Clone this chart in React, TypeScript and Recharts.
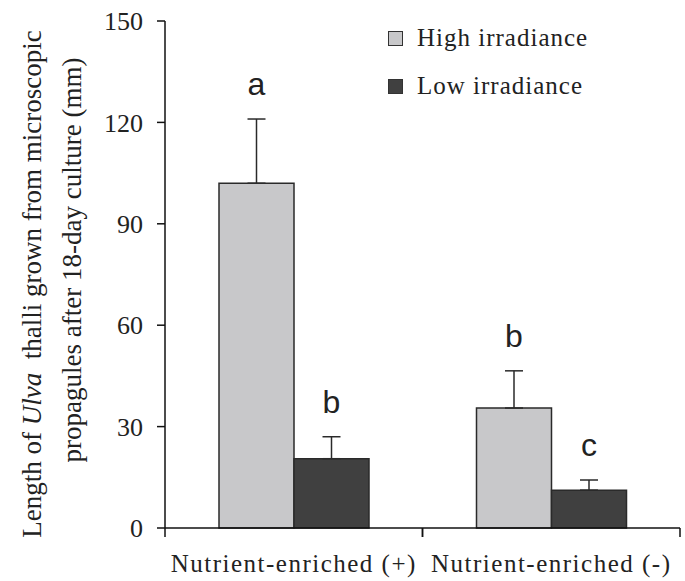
import { BarChart, Bar, XAxis, YAxis, ErrorBar, LabelList, Legend } from 'recharts'

const categories = ['Nutrient-enriched (+)', 'Nutrient-enriched (-)']
const highValues = [102, 35.5]
const highSE = [19, 11]
const lowValues = [20.5, 11.2]
const lowSE = [6.5, 3]
const highLetters = ['a', 'b']
const lowLetters = ['b', 'c']
const yTicks = [0, 30, 60, 90, 120, 150]

const data = categories.map((name, i) => ({
  name,
  high: highValues[i],
  highErr: [0, highSE[i]],
  low: lowValues[i],
  lowErr: [0, lowSE[i]],
}))

const W = 685
const H = 581
const LEFT = 165
const RIGHT = 5
const TOP = 21
const XAXIS_H = 53
const AXIS_Y = H - XAXIS_H
const BAND = (W - LEFT - RIGHT) / categories.length

const serif = 'Liberation Serif, Tinos, Times New Roman, DejaVu Serif, serif'
const sans = 'Liberation Sans, Arial, sans-serif'
const ink = '#222'

const HIGH = '#c8c8ca'
const LOW = '#404040'

// letter sits above the error bar cap
const letterLabel = (letters: string[], ses: number[]) => (props: any) => {
  const x = Number(props.x)
  const y = Number(props.y)
  const w = Number(props.width)
  const h = Number(props.height)
  const v = Number(props.value)
  const ppu = h / v
  const top = y - ses[props.index] * ppu
  return (
    <text x={x + w / 2} y={top - 24} textAnchor="middle" style={{ fontFamily: sans }} fontSize={32} fill={ink}>
      {letters[props.index]}
    </text>
  )
}

function CatTick({ x, payload }: any) {
  return (
    <g>
      <line x1={x - BAND / 2} y1={AXIS_Y} x2={x - BAND / 2} y2={AXIS_Y + 9} stroke="#111" strokeWidth={1.5} />
      <line x1={x + BAND / 2} y1={AXIS_Y} x2={x + BAND / 2} y2={AXIS_Y + 9} stroke="#111" strokeWidth={1.5} />
      <text x={x} y={AXIS_Y + 44} textAnchor="middle" style={{ fontFamily: serif }} fontSize={25} letterSpacing={1.5} fill={ink}>
        {payload.value}
      </text>
    </g>
  )
}

function YTick({ x, y, payload }: any) {
  return (
    <text x={x} y={y} dy="0.35em" textAnchor="end" style={{ fontFamily: serif }} fontSize={26} fill={ink}>
      {payload.value}
    </text>
  )
}

function YTitle() {
  return (
    <g style={{ fontFamily: serif }} fontSize={27} fill={ink}>
      <text transform="translate(41,284) rotate(-90)" textAnchor="middle" style={{ whiteSpace: 'pre' }}>
        Length of <tspan fontStyle="italic">Ulva</tspan>  thalli grown from microscopic
      </text>
      <text transform="translate(81,260) rotate(-90)" textAnchor="middle">
        propagules after 18-day culture (mm)
      </text>
    </g>
  )
}

const legendItems = [
  { label: 'High irradiance', color: HIGH },
  { label: 'Low irradiance', color: LOW },
]

function LegendBox() {
  return (
    <div>
      {legendItems.map((it) => (
        <div key={it.label} style={{ display: 'flex', alignItems: 'center', height: 48 }}>
          <div style={{ width: 13, height: 13, background: it.color, border: '1.5px solid #333', marginRight: 14 }} />
          <span style={{ fontFamily: serif, fontSize: 25, letterSpacing: 1, color: ink }}>{it.label}</span>
        </div>
      ))}
    </div>
  )
}

export default function App() {
  return (
    <div style={{ position: 'absolute', left: 0, top: 0, background: '#fff' }}>
      <BarChart
        width={W}
        height={H}
        data={data}
        margin={{ top: TOP, right: RIGHT, bottom: 0, left: 0 }}
        barGap={0}
        barSize={75}
      >
        <YAxis
          width={LEFT}
          domain={[0, 150]}
          ticks={yTicks}
          interval={0}
          tickSize={8}
          tickMargin={14}
          axisLine={{ stroke: '#111', strokeWidth: 1.5 }}
          tickLine={{ stroke: '#111', strokeWidth: 1.5 }}
          tick={<YTick />}
          label={<YTitle />}
        />
        <XAxis
          dataKey="name"
          height={XAXIS_H}
          axisLine={{ stroke: '#111', strokeWidth: 1.5 }}
          tickLine={false}
          tick={<CatTick />}
          interval={0}
        />
        <Legend
          layout="vertical"
          align="center"
          verticalAlign="middle"
          content={<LegendBox />}
          wrapperStyle={{ left: 388, top: 14, width: 'auto', height: 'auto' }}
        />
        <Bar dataKey="high" fill={HIGH} stroke="#2a2a2a" strokeWidth={1.5} isAnimationActive={false}>
          <ErrorBar dataKey="highErr" direction="y" width={9} stroke="#2a2a2a" strokeWidth={1.5} isAnimationActive={false} />
          <LabelList dataKey="high" content={letterLabel(highLetters, highSE)} />
        </Bar>
        <Bar dataKey="low" fill={LOW} stroke="#2a2a2a" strokeWidth={1.5} isAnimationActive={false}>
          <ErrorBar dataKey="lowErr" direction="y" width={9} stroke="#2a2a2a" strokeWidth={1.5} isAnimationActive={false} />
          <LabelList dataKey="low" content={letterLabel(lowLetters, lowSE)} />
        </Bar>
      </BarChart>
    </div>
  )
}
